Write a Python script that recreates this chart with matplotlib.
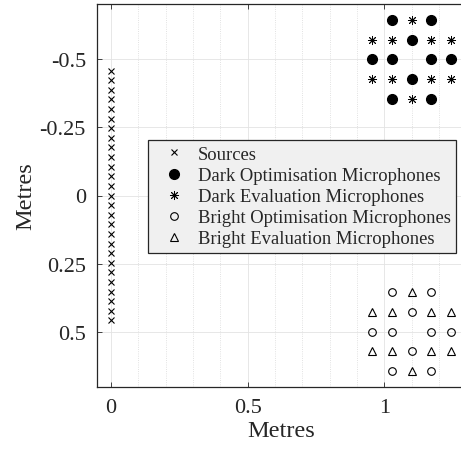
import matplotlib
matplotlib.use("Agg")
import matplotlib.pyplot as plt
from matplotlib.ticker import FixedLocator, FixedFormatter, MultipleLocator

plt.rcParams['font.family'] = ['Liberation Serif', 'DejaVu Serif']
plt.rcParams['axes.unicode_minus'] = False

# ---- data ----
source_x = [0.0] * 27
source_y = [-0.459, -0.4237, -0.3884, -0.3531, -0.3178, -0.2825, -0.2472, -0.2119,
            -0.1766, -0.1413, -0.106, -0.0707, -0.0353, 0.0, 0.0353, 0.0707, 0.106,
            0.1413, 0.1766, 0.2119, 0.2472, 0.2825, 0.3178, 0.3531, 0.3884, 0.4237, 0.459]

dark_opt_x = [1.0275, 1.1725, 1.1, 0.955, 1.0275, 1.1725, 1.245, 1.1, 1.0275, 1.1725]
dark_opt_y = [-0.645, -0.645, -0.5725, -0.5, -0.5, -0.5, -0.5, -0.4275, -0.355, -0.355]

dark_eval_x = [1.1, 0.955, 1.0275, 1.1725, 1.245, 0.955, 1.0275, 1.1725, 1.245, 1.1]
dark_eval_y = [-0.645, -0.5725, -0.5725, -0.5725, -0.5725, -0.4275, -0.4275, -0.4275, -0.4275, -0.355]

bright_opt_x = [1.0275, 1.1725, 1.1, 0.955, 1.0275, 1.1725, 1.245, 1.1, 1.0275, 1.1725]
bright_opt_y = [0.355, 0.355, 0.4275, 0.5, 0.5, 0.5, 0.5, 0.5725, 0.645, 0.645]

bright_eval_x = [1.1, 0.955, 1.0275, 1.1725, 1.245, 0.955, 1.0275, 1.1725, 1.245, 1.1]
bright_eval_y = [0.355, 0.4275, 0.4275, 0.4275, 0.4275, 0.5725, 0.5725, 0.5725, 0.5725, 0.645]

legend_labels = ['Sources', 'Dark Optimisation Microphones', 'Dark Evaluation Microphones',
                 'Bright Optimisation Microphones', 'Bright Evaluation Microphones']

x_ticks = [0, 0.5, 1]
x_tick_labels = ['0', '0.5', '1']
y_ticks = [-0.5, -0.25, 0, 0.25, 0.5]
y_tick_labels = ['-0.5', '-0.25', '0', '0.25', '0.5']
axis_label = 'Metres'

# ---- figure ----
dark = '#262626'
fig = plt.figure(figsize=(4.61, 4.52), dpi=100)
ax = fig.add_axes([97 / 461, 1 - 388 / 452, 369 / 461, 383 / 452])

ax.plot(source_x, source_y, linestyle='none', marker='x', color='k', markersize=4.5,
        markeredgewidth=0.8, label=legend_labels[0])
ax.plot(dark_opt_x, dark_opt_y, linestyle='none', marker='o', color='k', markersize=7,
        label=legend_labels[1])
ax.plot(dark_eval_x, dark_eval_y, linestyle='none', marker=(8, 2, 0), color='k', markersize=6.5,
        markeredgewidth=0.65, label=legend_labels[2])
ax.plot(bright_opt_x, bright_opt_y, linestyle='none', marker='o', markerfacecolor='none',
        markeredgecolor='k', markersize=5.5, markeredgewidth=0.8, label=legend_labels[3])
ax.plot(bright_eval_x, bright_eval_y, linestyle='none', marker='^', markerfacecolor='none',
        markeredgecolor='k', markersize=6, markeredgewidth=0.8, label=legend_labels[4])

ax.set_xlim(-0.0512, 1.2988)
ax.set_ylim(0.704, -0.704)

ax.xaxis.set_major_locator(FixedLocator(x_ticks))
ax.xaxis.set_major_formatter(FixedFormatter(x_tick_labels))
ax.yaxis.set_major_locator(FixedLocator(y_ticks))
ax.yaxis.set_major_formatter(FixedFormatter(y_tick_labels))
ax.xaxis.set_minor_locator(MultipleLocator(0.1))

ax.grid(True, which='major', color='#e3e3e3', linewidth=0.6, linestyle='-')
ax.grid(True, which='minor', axis='x', color='#d8d8d8', linewidth=0.6, linestyle=':')
ax.set_axisbelow(True)

ax.tick_params(which='major', direction='in', length=3.5, width=0.6, color=dark,
               top=True, right=True, labelsize=16, labelcolor=dark, pad=8)
ax.tick_params(which='minor', length=0, top=False, bottom=False)
for s in ax.spines.values():
    s.set_color(dark)
    s.set_linewidth(0.9)

ax.set_xlabel(axis_label, fontsize=17.5, color=dark, labelpad=2)
ax.set_ylabel(axis_label, fontsize=17.5, color=dark, labelpad=2)

leg = ax.legend(loc='upper left', bbox_to_anchor=(0.138, 0.645), borderaxespad=0,
                fontsize=13.4, frameon=True, fancybox=False, framealpha=1,
                facecolor='#f0f0f0', edgecolor=dark, handlelength=2.2, handletextpad=0.15,
                labelspacing=0.22, borderpad=0.32, numpoints=1)
leg.get_frame().set_linewidth(0.9)
for t in leg.get_texts():
    t.set_color(dark)

fig.savefig('out.png', dpi=100)
